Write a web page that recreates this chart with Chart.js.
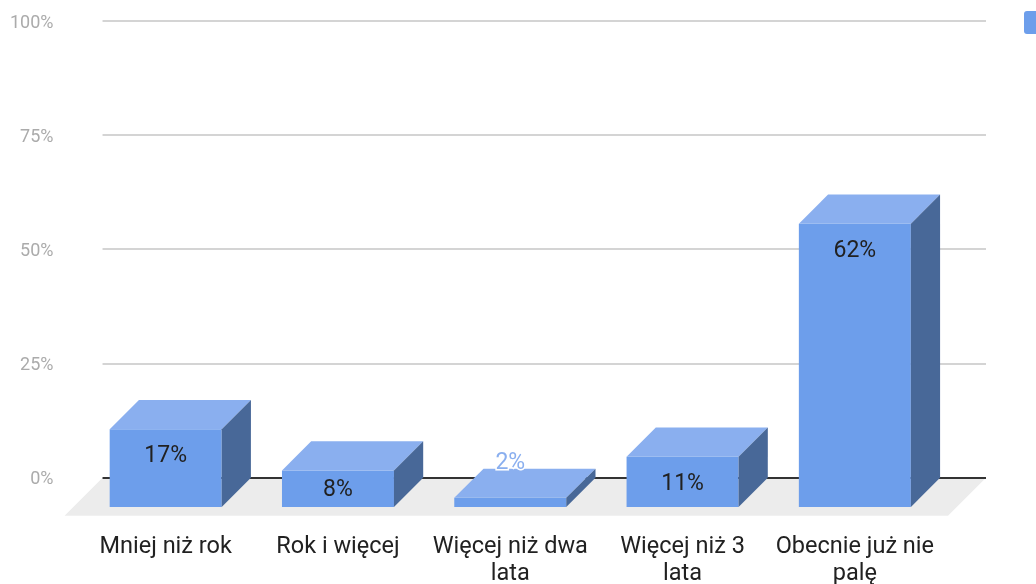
<!DOCTYPE html>
<html>
<head>
<meta charset="utf-8">
<script src="https://cdn.jsdelivr.net/npm/chart.js@4/dist/chart.umd.min.js"></script>
<style>
  html, body { margin: 0; padding: 0; background: #fff; overflow: hidden; }
  #wrap { width: 1036px; height: 600px; }
</style>
</head>
<body>
<div id="wrap"><canvas id="smokeChart"></canvas></div>
<script>
const categories = [
  'Mniej niż rok',
  'Rok i więcej',
  ['Więcej niż dwa', 'lata'],
  ['Więcej niż 3', 'lata'],
  ['Obecnie już nie', 'palę']
];
const shares = [17, 8, 2, 11, 62];
const percentTicks = [0, 25, 50, 75, 100];

// how far the back wall sits behind the bar fronts, in axis units
const WALL_OFFSET = 6.4;

const FRONT = '#6d9eeb';
const TOP = '#8aafef';
const SIDE = '#486898';

// floor, grid and zero line behind the bars, then the box tops/sides and labels
const cubes = {
  id: 'cubes',
  beforeDatasetsDraw(chart) {
    const { ctx, chartArea: a, scales: { yAxis } } = chart;
    const back = yAxis.getPixelForValue(0);
    const x0 = a.left + 23, x1 = a.right + 45, fd = 38;
    ctx.save();
    ctx.fillStyle = '#ececec';
    ctx.beginPath();
    ctx.moveTo(x0, back);
    ctx.lineTo(x1, back);
    ctx.lineTo(x1 - fd, back + fd);
    ctx.lineTo(x0 - fd, back + fd);
    ctx.closePath();
    ctx.fill();

    ctx.lineWidth = 2;
    yAxis.ticks.forEach(t => {
      if (t.value === 0) return;
      const py = Math.round(yAxis.getPixelForValue(t.value));
      ctx.strokeStyle = '#d4d4d4';
      ctx.beginPath();
      ctx.moveTo(x0, py);
      ctx.lineTo(x1, py);
      ctx.stroke();
    });
    ctx.strokeStyle = '#333';
    ctx.beginPath();
    ctx.moveTo(x0, Math.round(back));
    ctx.lineTo(x1, Math.round(back));
    ctx.stroke();
    ctx.restore();
  },
  afterDatasetsDraw(chart) {
    const { ctx, scales: { y, yAxis } } = chart;
    const d = y.getPixelForValue(0) - yAxis.getPixelForValue(0);
    const bars = chart.getDatasetMeta(0).data;
    ctx.save();
    bars.forEach((bar, i) => {
      const l = bar.x - bar.width / 2, r = bar.x + bar.width / 2;
      const t = bar.y, b = bar.base;
      ctx.fillStyle = TOP;
      ctx.beginPath();
      ctx.moveTo(l, t);
      ctx.lineTo(r, t);
      ctx.lineTo(r + d, t - d);
      ctx.lineTo(l + d, t - d);
      ctx.closePath();
      ctx.fill();
      ctx.fillStyle = SIDE;
      ctx.beginPath();
      ctx.moveTo(r, t);
      ctx.lineTo(r + d, t - d);
      ctx.lineTo(r + d, b - d);
      ctx.lineTo(r, b);
      ctx.closePath();
      ctx.fill();

      const txt = shares[i] + '%';
      ctx.font = '23px Roboto';
      ctx.textAlign = 'center';
      ctx.textBaseline = 'middle';
      if (b - t >= 30) {
        ctx.fillStyle = '#212121';
        ctx.fillText(txt, bar.x, Math.min(t + 27, (t + b) / 2 + 2));
      } else {
        const cy = t - d - 5;
        ctx.lineWidth = 3;
        ctx.strokeStyle = '#fff';
        ctx.strokeText(txt, bar.x, cy);
        ctx.fillStyle = TOP;
        ctx.fillText(txt, bar.x, cy);
      }
    });
    ctx.restore();
  },
  afterDraw(chart) {
    // legend swatch at the right edge
    const { ctx } = chart;
    ctx.save();
    ctx.fillStyle = FRONT;
    ctx.beginPath();
    ctx.roundRect(1024, 11, 23, 23, 3);
    ctx.fill();
    ctx.restore();
  }
};

new Chart(document.getElementById('smokeChart'), {
  type: 'bar',
  data: {
    labels: categories,
    datasets: [{
      label: 'Odsetek',
      data: shares,
      backgroundColor: FRONT,
      borderWidth: 0,
      categoryPercentage: 1,
      barPercentage: 0.65
    }]
  },
  options: {
    responsive: true,
    maintainAspectRatio: false,
    animation: false,
    layout: { padding: { top: 21, left: 10, right: 95, bottom: 12 } },
    plugins: {
      legend: { display: false },
      tooltip: { enabled: false }
    },
    scales: {
      x: {
        // invisible tick marks keep the gap between bars and labels
        grid: { display: false, drawTicks: true, tickLength: 26 },
        border: { display: false },
        ticks: {
          padding: 0,
          color: '#212121',
          font: { family: 'Roboto', size: 23.5, lineHeight: 1.17 }
        }
      },
      y: {
        display: false,
        min: 0,
        max: 100 + WALL_OFFSET
      },
      yAxis: {
        position: 'left',
        min: -WALL_OFFSET,
        max: 100,
        afterBuildTicks: axis => {
          axis.ticks = percentTicks.map(v => ({ value: v }));
        },
        grid: { display: false, drawTicks: true, tickLength: 26 },
        border: { display: false },
        ticks: {
          padding: 0,
          labelOffset: 2,
          color: '#ababab',
          font: { family: 'Roboto', size: 18 },
          callback: v => v + '%'
        }
      }
    }
  },
  plugins: [cubes]
});
</script>
</body>
</html>
